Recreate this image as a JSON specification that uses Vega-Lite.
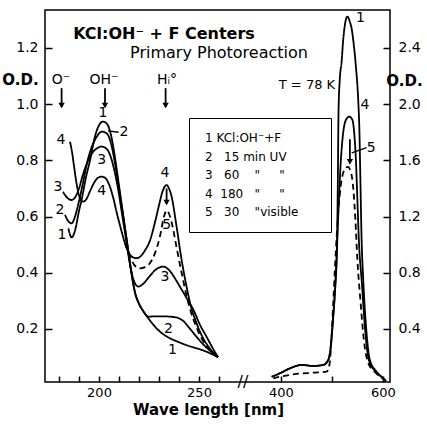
{
  "$schema": "https://vega.github.io/schema/vega-lite/v6.json",
  "width": 345,
  "height": 372,
  "autosize": "none",
  "padding": {"left": 45, "top": 10, "right": 37, "bottom": 43},
  "background": "white",
  "config": {
    "view": {"stroke": "black", "strokeWidth": 1.5},
    "axis": {"domain": false, "grid": false, "labelFont": "DejaVu Sans", "labelFontSize": 14, "labelColor": "black", "tickColor": "black", "tickWidth": 1.5, "titleFont": "DejaVu Sans", "titleColor": "black", "titleFontWeight": "bold", "titleFontSize": 15},
    "text": {"font": "DejaVu Sans", "color": "black"}
  },
  "datasets": {
    "uv": [
      {"c":"1","nm":184.7,"od":0.558},{"c":"1","nm":186.3,"od":0.526},{"c":"1","nm":188,"od":0.55},{"c":"1","nm":190,"od":0.62},{"c":"1","nm":191.3,"od":0.66},{"c":"1","nm":193.5,"od":0.74},{"c":"1","nm":195.5,"od":0.8},{"c":"1","nm":198,"od":0.885},{"c":"1","nm":200,"od":0.925},{"c":"1","nm":202,"od":0.938},{"c":"1","nm":204,"od":0.93},{"c":"1","nm":206,"od":0.89},{"c":"1","nm":208,"od":0.81},{"c":"1","nm":210,"od":0.71},{"c":"1","nm":212,"od":0.61},{"c":"1","nm":214,"od":0.51},{"c":"1","nm":216,"od":0.41},{"c":"1","nm":218,"od":0.33},{"c":"1","nm":220,"od":0.29},{"c":"1","nm":222,"od":0.265},{"c":"1","nm":225,"od":0.235},{"c":"1","nm":228.8,"od":0.202},{"c":"1","nm":232,"od":0.182},{"c":"1","nm":235.5,"od":0.167},{"c":"1","nm":240,"od":0.153},{"c":"1","nm":244,"od":0.142},{"c":"1","nm":248,"od":0.133},{"c":"1","nm":252,"od":0.124},{"c":"1","nm":256,"od":0.112},{"c":"1","nm":259.5,"od":0.1},
      {"c":"2","nm":183,"od":0.606},{"c":"2","nm":184.5,"od":0.585},{"c":"2","nm":186.3,"od":0.576},{"c":"2","nm":188,"od":0.6},{"c":"2","nm":190,"od":0.655},{"c":"2","nm":192,"od":0.72},{"c":"2","nm":194,"od":0.79},{"c":"2","nm":196,"od":0.84},{"c":"2","nm":198.5,"od":0.88},{"c":"2","nm":201.5,"od":0.902},{"c":"2","nm":204,"od":0.895},{"c":"2","nm":206,"od":0.86},{"c":"2","nm":208,"od":0.79},{"c":"2","nm":210,"od":0.7},{"c":"2","nm":212,"od":0.605},{"c":"2","nm":214,"od":0.51},{"c":"2","nm":216,"od":0.41},{"c":"2","nm":218,"od":0.33},{"c":"2","nm":220,"od":0.29},{"c":"2","nm":222,"od":0.265},{"c":"2","nm":224.7,"od":0.244},{"c":"2","nm":228,"od":0.245},{"c":"2","nm":232,"od":0.245},{"c":"2","nm":237,"od":0.243},{"c":"2","nm":240,"od":0.238},{"c":"2","nm":242.2,"od":0.228},{"c":"2","nm":245,"od":0.205},{"c":"2","nm":248.8,"od":0.172},{"c":"2","nm":252,"od":0.146},{"c":"2","nm":255.5,"od":0.123},{"c":"2","nm":259.5,"od":0.1},
      {"c":"3","nm":182,"od":0.688},{"c":"3","nm":183.5,"od":0.672},{"c":"3","nm":185,"od":0.662},{"c":"3","nm":186.3,"od":0.659},{"c":"3","nm":188,"od":0.668},{"c":"3","nm":190,"od":0.7},{"c":"3","nm":192,"od":0.75},{"c":"3","nm":194,"od":0.79},{"c":"3","nm":196.5,"od":0.825},{"c":"3","nm":199,"od":0.843},{"c":"3","nm":201.3,"od":0.849},{"c":"3","nm":203.5,"od":0.843},{"c":"3","nm":205.5,"od":0.82},{"c":"3","nm":207.5,"od":0.77},{"c":"3","nm":209.5,"od":0.7},{"c":"3","nm":211.5,"od":0.61},{"c":"3","nm":213.5,"od":0.52},{"c":"3","nm":215.5,"od":0.43},{"c":"3","nm":217.5,"od":0.37},{"c":"3","nm":219.7,"od":0.351},{"c":"3","nm":222,"od":0.36},{"c":"3","nm":225,"od":0.385},{"c":"3","nm":228.5,"od":0.412},{"c":"3","nm":232.2,"od":0.422},{"c":"3","nm":235,"od":0.41},{"c":"3","nm":238,"od":0.38},{"c":"3","nm":240.5,"od":0.35},{"c":"3","nm":244,"od":0.308},{"c":"3","nm":247.2,"od":0.268},{"c":"3","nm":250.5,"od":0.215},{"c":"3","nm":253.8,"od":0.172},{"c":"3","nm":257,"od":0.13},{"c":"3","nm":259.5,"od":0.1},
      {"c":"4","nm":185.5,"od":0.866},{"c":"4","nm":186.5,"od":0.83},{"c":"4","nm":187.5,"od":0.78},{"c":"4","nm":188.5,"od":0.73},{"c":"4","nm":189.5,"od":0.69},{"c":"4","nm":190.5,"od":0.665},{"c":"4","nm":192,"od":0.653},{"c":"4","nm":193.5,"od":0.66},{"c":"4","nm":195.5,"od":0.69},{"c":"4","nm":197.5,"od":0.72},{"c":"4","nm":199.5,"od":0.738},{"c":"4","nm":201.3,"od":0.742},{"c":"4","nm":203,"od":0.738},{"c":"4","nm":205,"od":0.715},{"c":"4","nm":207,"od":0.67},{"c":"4","nm":209,"od":0.61},{"c":"4","nm":211,"od":0.555},{"c":"4","nm":213,"od":0.505},{"c":"4","nm":215,"od":0.47},{"c":"4","nm":217,"od":0.455},{"c":"4","nm":218.8,"od":0.452},{"c":"4","nm":221,"od":0.46},{"c":"4","nm":223,"od":0.48},{"c":"4","nm":225.5,"od":0.515},{"c":"4","nm":228,"od":0.58},{"c":"4","nm":230,"od":0.64},{"c":"4","nm":231.8,"od":0.69},{"c":"4","nm":233.8,"od":0.712},{"c":"4","nm":235,"od":0.7},{"c":"4","nm":236.3,"od":0.671},{"c":"4","nm":238.8,"od":0.564},{"c":"4","nm":241.3,"od":0.446},{"c":"4","nm":243.8,"od":0.35},{"c":"4","nm":246,"od":0.28},{"c":"4","nm":248.8,"od":0.22},{"c":"4","nm":252,"od":0.168},{"c":"4","nm":255.5,"od":0.13},{"c":"4","nm":259.5,"od":0.1},
      {"c":"5","nm":213,"od":0.505},{"c":"5","nm":215.5,"od":0.457},{"c":"5","nm":218,"od":0.425},{"c":"5","nm":220.5,"od":0.416},{"c":"5","nm":223,"od":0.42},{"c":"5","nm":225.5,"od":0.435},{"c":"5","nm":228,"od":0.47},{"c":"5","nm":230.5,"od":0.53},{"c":"5","nm":232.5,"od":0.6},{"c":"5","nm":233.8,"od":0.622},{"c":"5","nm":235,"od":0.61},{"c":"5","nm":236.3,"od":0.58},{"c":"5","nm":238.8,"od":0.49},{"c":"5","nm":241.3,"od":0.4},{"c":"5","nm":243.8,"od":0.318},{"c":"5","nm":246,"od":0.26},{"c":"5","nm":248.8,"od":0.205},{"c":"5","nm":252,"od":0.158},{"c":"5","nm":255.5,"od":0.125},{"c":"5","nm":259.5,"od":0.1}
    ],
    "vis": [
      {"c":"1","nm":381.8,"od":0.06},{"c":"1","nm":398,"od":0.085},{"c":"1","nm":417.6,"od":0.12},{"c":"1","nm":440.6,"od":0.144},{"c":"1","nm":463.3,"od":0.137},{"c":"1","nm":482.9,"od":0.144},{"c":"1","nm":492.7,"od":0.179},{"c":"1","nm":496.1,"od":0.227},{"c":"1","nm":502.5,"od":0.488},{"c":"1","nm":506.9,"od":0.727},{"c":"1","nm":509.8,"od":0.962},{"c":"1","nm":511.5,"od":1.4},{"c":"1","nm":513,"od":1.95},{"c":"1","nm":515.5,"od":2.18},{"c":"1","nm":519,"od":2.3},{"c":"1","nm":522.2,"od":2.46},{"c":"1","nm":525.5,"od":2.565},{"c":"1","nm":530.4,"od":2.623},{"c":"1","nm":535.3,"od":2.585},{"c":"1","nm":539.2,"od":2.528},{"c":"1","nm":541.8,"od":2.457},{"c":"1","nm":547.1,"od":2.267},{"c":"1","nm":551.6,"od":2.03},{"c":"1","nm":553.9,"od":1.817},{"c":"1","nm":555.9,"od":1.46},{"c":"1","nm":557.8,"od":1.105},{"c":"1","nm":561.8,"od":0.727},{"c":"1","nm":568,"od":0.372},{"c":"1","nm":574.5,"od":0.179},{"c":"1","nm":587.6,"od":0.096},{"c":"1","nm":600.6,"od":0.049},{"c":"1","nm":605.9,"od":0.03},
      {"c":"4","nm":381.8,"od":0.06},{"c":"4","nm":398,"od":0.085},{"c":"4","nm":417.6,"od":0.12},{"c":"4","nm":440.6,"od":0.144},{"c":"4","nm":463.3,"od":0.137},{"c":"4","nm":482.9,"od":0.144},{"c":"4","nm":492.7,"od":0.179},{"c":"4","nm":496.1,"od":0.227},{"c":"4","nm":502.5,"od":0.488},{"c":"4","nm":506.9,"od":0.727},{"c":"4","nm":509.8,"od":0.962},{"c":"4","nm":513.7,"od":1.318},{"c":"4","nm":517.6,"od":1.603},{"c":"4","nm":521.6,"od":1.781},{"c":"4","nm":527.5,"od":1.888},{"c":"4","nm":533.9,"od":1.911},{"c":"4","nm":540.2,"od":1.888},{"c":"4","nm":544.1,"od":1.781},{"c":"4","nm":547.1,"od":1.603},{"c":"4","nm":550,"od":1.318},{"c":"4","nm":552.9,"od":1.033},{"c":"4","nm":558.8,"od":0.727},{"c":"4","nm":565.7,"od":0.372},{"c":"4","nm":572.5,"od":0.179},{"c":"4","nm":586.3,"od":0.096},{"c":"4","nm":600.6,"od":0.049},{"c":"4","nm":605.9,"od":0.03},
      {"c":"5","nm":384.9,"od":0.049},{"c":"5","nm":404.5,"od":0.065},{"c":"5","nm":430.8,"od":0.08},{"c":"5","nm":463.3,"od":0.089},{"c":"5","nm":489.6,"od":0.096},{"c":"5","nm":495.1,"od":0.144},{"c":"5","nm":499,"od":0.322},{"c":"5","nm":502.9,"od":0.606},{"c":"5","nm":507.8,"od":0.962},{"c":"5","nm":512.7,"od":1.247},{"c":"5","nm":517.6,"od":1.425},{"c":"5","nm":524.5,"od":1.532},{"c":"5","nm":531.4,"od":1.553},{"c":"5","nm":537.3,"od":1.517},{"c":"5","nm":542.2,"od":1.389},{"c":"5","nm":546.1,"od":1.176},{"c":"5","nm":550,"od":0.891},{"c":"5","nm":555.9,"od":0.606},{"c":"5","nm":562.7,"od":0.321},{"c":"5","nm":570.6,"od":0.165},{"c":"5","nm":584.3,"od":0.094},{"c":"5","nm":600,"od":0.048},{"c":"5","nm":605.9,"od":0.03}
    ],
    "uvLabels": [
      {"t":"1","nm":202,"od":0.97},{"t":"2","nm":212.5,"od":0.9},{"t":"3","nm":201.3,"od":0.8},{"t":"4","nm":201.3,"od":0.69},
      {"t":"4","nm":181,"od":0.872},{"t":"3","nm":179.5,"od":0.705},{"t":"2","nm":180.5,"od":0.623},{"t":"1","nm":181.5,"od":0.534},
      {"t":"4","nm":233,"od":0.755},{"t":"5","nm":233.8,"od":0.57},{"t":"3","nm":233,"od":0.386},{"t":"2","nm":234.7,"od":0.199},{"t":"1","nm":236.7,"od":0.125}
    ],
    "visLabels": [
      {"t":"1","nm":556,"od":2.61},{"t":"4","nm":564.7,"od":1.995},{"t":"5","nm":577,"od":1.69}
    ],
    "bands": [
      {"t":"O⁻","nm":181,"od":1.086},{"t":"OH⁻","nm":202.5,"od":1.086},{"t":"Hᵢ°","nm":234,"od":1.086}
    ],
    "uvArrows": [
      {"nm":181.3,"od":1.057,"od2":0.99},{"nm":203,"od":1.057,"od2":0.99},{"nm":233.3,"od":1.057,"od2":0.99},{"nm":233.8,"od":0.7,"od2":0.645}
    ],
    "uvHeads": [
      {"nm":181.3,"od":0.995},{"nm":203,"od":0.995},{"nm":233.3,"od":0.995},{"nm":233.8,"od":0.65}
    ],
    "uvLeaders": [{"nm":204.5,"od":0.905,"nm2":209.8,"od2":0.9}],
    "visArrows": [{"nm":535.3,"od":1.75,"od2":1.58}],
    "visHeads": [{"nm":535.3,"od":1.59}],
    "visLeaders": [{"nm":539,"od":1.653,"nm2":568,"od2":1.69}],
    "titles": [{"t":"KCl:OH⁻ + F Centers","nm":232.5,"od":1.25}],
    "subtitles": [{"t":"Primary Photoreaction","nm":260,"od":1.182}],
    "temps": [{"t":"T = 78 K","nm":451,"od":1.068}],
    "breaks": [{"t":"//","nm":272,"od":0.0114}]
  },
  "encoding": {
    "x": {
      "field": "nm", "type": "quantitative",
      "scale": {"domain": [173, 272, 325.5, 614], "range": [0, 198, 198, 345], "nice": false, "zero": false},
      "axis": {
        "orient": "bottom",
        "values": [180, 190, 200, 210, 220, 230, 240, 250, 260, 400, 500, 600],
        "format": "d",
        "labelExpr": "indexof([200, 250, 400, 600], datum.value) >= 0 ? datum.label : ''",
        "tickSize": -6,
        "labelPadding": 10,
        "labelFontSize": 13,
        "labelFlush": false,
        "labelOverlap": false,
        "title": "Wave length [nm]",
        "titleX": 163,
        "titleY": 27,
        "titleAlign": "center",
        "titleBaseline": "middle",
        "titleAnchor": null
      }
    }
  },
  "layer": [
    {
      "encoding": {
        "y": {
          "field": "od", "type": "quantitative",
          "scale": {"domain": [0.0114, 1.335], "nice": false, "zero": false},
          "axis": {
            "orient": "left",
            "values": [0.2, 0.4, 0.6, 0.8, 1.0, 1.2],
            "format": ".1f",
            "tickSize": -7,
            "labelPadding": 14,
            "title": "O.D.",
            "titleAngle": 0,
            "titleX": -25,
            "titleY": 69,
            "titleAlign": "center",
            "titleBaseline": "middle"
          }
        }
      },
      "layer": [
        {
          "data": {"name": "uv"},
          "mark": {"type": "line", "color": "black", "strokeWidth": 1.8, "interpolate": "monotone"},
          "encoding": {
            "detail": {"field": "c", "type": "nominal"},
            "strokeDash": {
              "field": "c", "type": "nominal",
              "scale": {"domain": ["1", "2", "3", "4", "5"], "range": [[1, 0], [1, 0], [1, 0], [1, 0], [6, 4]]},
              "legend": {
                "orient": "none", "legendX": 144, "legendY": 108,
                "title": null,
                "strokeColor": "black", "fillColor": "white",
                "padding": 14,
                "symbolSize": 0, "symbolStrokeWidth": 0, "symbolOpacity": 0,
                "labelOffset": -10,
                "labelFont": "DejaVu Sans", "labelFontSize": 12, "labelColor": "black",
                "rowPadding": 6.5,
                "labelLimit": 0,
                "labelExpr": "['1\u00a0KCl:OH⁻+F', '2\u00a0\u00a0\u00a015\u00a0min\u00a0UV', '3\u00a0\u00a0\u00a060\u00a0\u00a0\u00a0\u00a0\"\u00a0\u00a0\u00a0\u00a0\u00a0\"', '4\u00a0\u00a0180\u00a0\u00a0\u00a0\"\u00a0\u00a0\u00a0\u00a0\u00a0\"', '5\u00a0\u00a0\u00a030\u00a0\u00a0\u00a0\u00a0\"visible\u2800\u2800'][toNumber(datum.value) - 1]"
              }
            }
          }
        },
        {
          "data": {"name": "uvLabels"},
          "mark": {"type": "text", "fontSize": 14, "align": "center", "baseline": "middle"},
          "encoding": {"text": {"field": "t", "type": "nominal"}}
        },
        {
          "data": {"name": "bands"},
          "mark": {"type": "text", "fontSize": 14, "align": "center", "baseline": "middle"},
          "encoding": {"text": {"field": "t", "type": "nominal"}}
        },
        {
          "data": {"name": "uvArrows"},
          "mark": {"type": "rule", "color": "black", "strokeWidth": 1.8},
          "encoding": {"y2": {"field": "od2"}}
        },
        {
          "data": {"name": "uvHeads"},
          "mark": {"type": "point", "shape": "triangle-down", "filled": true, "size": 40, "color": "black", "opacity": 1},
          "encoding": {}
        },
        {
          "data": {"name": "uvLeaders"},
          "mark": {"type": "rule", "color": "black", "strokeWidth": 1.3},
          "encoding": {"x2": {"field": "nm2"}, "y2": {"field": "od2"}}
        },
        {
          "data": {"name": "titles"},
          "mark": {"type": "text", "fontSize": 16, "fontWeight": "bold", "align": "center", "baseline": "middle"},
          "encoding": {"text": {"field": "t", "type": "nominal"}}
        },
        {
          "data": {"name": "subtitles"},
          "mark": {"type": "text", "fontSize": 16, "align": "center", "baseline": "middle"},
          "encoding": {"text": {"field": "t", "type": "nominal"}}
        },
        {
          "data": {"name": "temps"},
          "mark": {"type": "text", "fontSize": 13, "align": "center", "baseline": "middle"},
          "encoding": {"text": {"field": "t", "type": "nominal"}}
        },
        {
          "data": {"name": "breaks"},
          "mark": {"type": "text", "fontSize": 16, "align": "center", "baseline": "middle"},
          "encoding": {"text": {"field": "t", "type": "nominal"}}
        }
      ]
    },
    {
      "encoding": {
        "y": {
          "field": "od", "type": "quantitative",
          "scale": {"domain": [0.0228, 2.67], "nice": false, "zero": false},
          "axis": {
            "orient": "right",
            "values": [0.4, 0.8, 1.2, 1.6, 2.0, 2.4],
            "format": ".1f",
            "tickSize": -7,
            "labelPadding": 15,
            "title": "O.D.",
            "titleAngle": 0,
            "titleX": 14,
            "titleY": 70,
            "titleAlign": "center",
            "titleBaseline": "middle"
          }
        }
      },
      "layer": [
        {
          "data": {"name": "vis"},
          "mark": {"type": "line", "color": "black", "strokeWidth": 1.8, "interpolate": "monotone"},
          "encoding": {
            "detail": {"field": "c", "type": "nominal"},
            "strokeDash": {
              "field": "c", "type": "nominal",
              "scale": {"domain": ["1", "2", "3", "4", "5"], "range": [[1, 0], [1, 0], [1, 0], [1, 0], [6, 4]]}
            }
          }
        },
        {
          "data": {"name": "visLabels"},
          "mark": {"type": "text", "fontSize": 14, "align": "center", "baseline": "middle"},
          "encoding": {"text": {"field": "t", "type": "nominal"}}
        },
        {
          "data": {"name": "visArrows"},
          "mark": {"type": "rule", "color": "black", "strokeWidth": 1.8},
          "encoding": {"y2": {"field": "od2"}}
        },
        {
          "data": {"name": "visHeads"},
          "mark": {"type": "point", "shape": "triangle-down", "filled": true, "size": 40, "color": "black", "opacity": 1},
          "encoding": {}
        },
        {
          "data": {"name": "visLeaders"},
          "mark": {"type": "rule", "color": "black", "strokeWidth": 1.3},
          "encoding": {"x2": {"field": "nm2"}, "y2": {"field": "od2"}}
        }
      ]
    }
  ],
  "resolve": {"scale": {"y": "independent"}}
}
